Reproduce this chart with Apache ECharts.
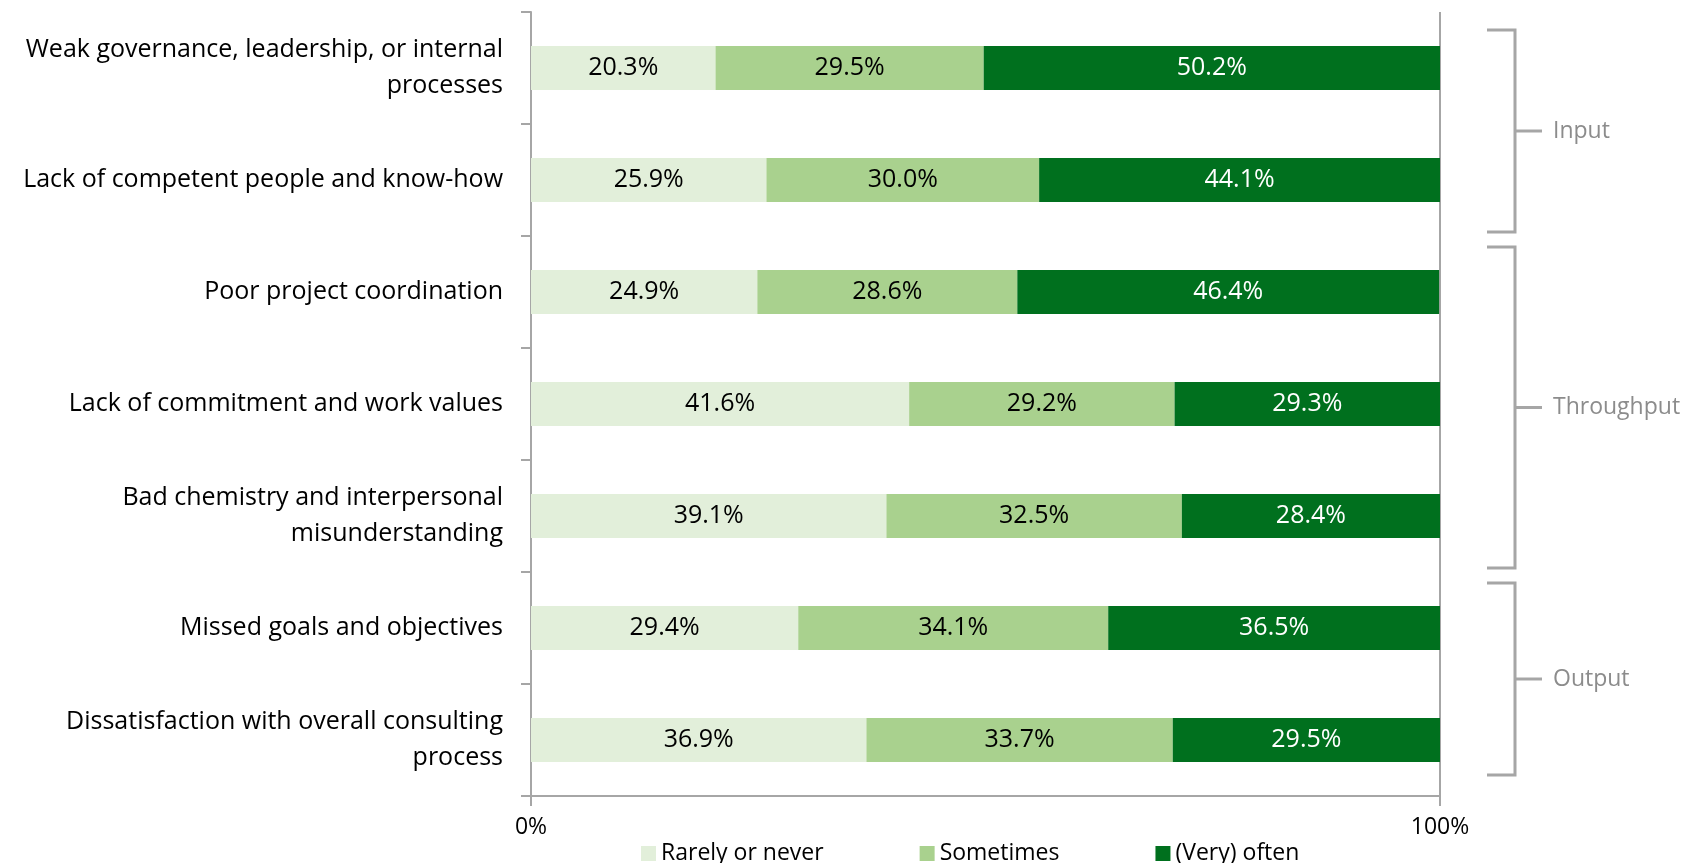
<!DOCTYPE html>
<html>
<head>
  <meta charset="utf-8">
  <title>Problems in consulting projects</title>
  <script src="https://cdn.jsdelivr.net/npm/echarts@6/dist/echarts.min.js"></script>
  <style>
    html, body { margin: 0; padding: 0; background: #fff; }
    #chart { width: 1685px; height: 863px; }
  </style>
</head>
<body>
<div id="chart"></div>
<script>
  // categories, top to bottom
  let categories = [
    'Weak governance, leadership, or internal\nprocesses',
    'Lack of competent people and know-how',
    'Poor project coordination',
    'Lack of commitment and work values',
    'Bad chemistry and interpersonal\nmisunderstanding',
    'Missed goals and objectives',
    'Dissatisfaction with overall consulting\nprocess'
  ];
  let seriesNames = ['Rarely or never', 'Sometimes', '(Very) often'];
  let rarely = [20.3, 25.9, 24.9, 41.6, 39.1, 29.4, 36.9];
  let sometimes = [29.5, 30.0, 28.6, 29.2, 32.5, 34.1, 33.7];
  let often = [50.2, 44.1, 46.4, 29.3, 28.4, 36.5, 29.5];
  let xTicks = [0, 100];
  // groups on the right: name, first and last category index
  let groupNames = ['Input', 'Throughput', 'Output'];
  let groupFrom = [0, 2, 5];
  let groupTo = [1, 4, 6];

  // bracket overhang above first / below last bar centre (px)
  let bracketPad = [[38, 52], [45, 52], [45, 35]];

  let colors = ['#E2EFDA', '#A9D18E', '#00701E'];
  let labelColors = ['#000', '#000', '#fff'];
  let font = "'Open Sans', 'Noto Sans', sans-serif";
  let gray = '#A6A6A6';

  let myChart = echarts.init(document.getElementById('chart'));

  function makeSeries(idx, values) {
    return {
      name: seriesNames[idx],
      type: 'bar',
      stack: 'total',
      barWidth: 44,
      data: values,
      itemStyle: { color: colors[idx] },
      label: {
        show: true,
        position: 'inside',
        color: labelColors[idx],
        fontFamily: font,
        fontSize: 25,
        formatter: function (p) { return p.value.toFixed(1) + '%'; }
      },
      emphasis: { disabled: true }
    };
  }

  let option = {
    animation: false,
    textStyle: { fontFamily: font },
    grid: { left: 531, right: 245, top: 12, bottom: 67, containLabel: false },
    legend: {
      data: seriesNames,
      left: 636,
      top: 837,
      itemWidth: 15,
      itemHeight: 15,
      itemGap: 96,
      itemTextGap: 8,
      icon: 'rect',
      textStyle: { fontFamily: font, fontSize: 23, color: '#000' }
    },
    xAxis: {
      type: 'value',
      min: xTicks[0],
      max: xTicks[1],
      interval: 100,
      axisLine: { show: true, lineStyle: { color: gray, width: 2 } },
      axisTick: { show: true, length: 10, lineStyle: { color: gray, width: 2 } },
      splitLine: { show: true, lineStyle: { color: gray, width: 2 } },
      axisLabel: {
        margin: 20,
        color: '#000',
        fontFamily: font,
        fontSize: 23,
        formatter: function (v) { return v + '%'; }
      }
    },
    yAxis: {
      type: 'category',
      inverse: true,
      data: categories,
      axisLine: { show: true, lineStyle: { color: gray, width: 2 } },
      axisTick: { show: true, length: 10, lineStyle: { color: gray, width: 2 } },
      axisLabel: {
        margin: 28,
        color: '#000',
        fontFamily: font,
        fontSize: 25,
        lineHeight: 36,
        align: 'right'
      }
    },
    series: [
      makeSeries(0, rarely),
      makeSeries(1, sometimes),
      makeSeries(2, often)
    ]
  };
  myChart.setOption(option);

  // brackets grouping the categories on the right side
  let graphics = [];
  let bx = 1515;
  groupNames.forEach(function (name, i) {
    let y1 = myChart.convertToPixel({ yAxisIndex: 0 }, groupFrom[i]) - bracketPad[i][0];
    let y2 = myChart.convertToPixel({ yAxisIndex: 0 }, groupTo[i]) + bracketPad[i][1];
    let ym = (y1 + y2) / 2;
    graphics.push({
      type: 'polyline',
      shape: { points: [[bx - 28, y1], [bx, y1], [bx, y2], [bx - 28, y2]] },
      style: { stroke: gray, lineWidth: 3, fill: null }
    });
    graphics.push({
      type: 'line',
      shape: { x1: bx, y1: ym, x2: bx + 27, y2: ym },
      style: { stroke: gray, lineWidth: 3 }
    });
    graphics.push({
      type: 'text',
      x: bx + 38,
      y: ym,
      style: {
        text: name,
        fill: '#8C8C8C',
        font: '23px ' + font,
        textVerticalAlign: 'middle'
      }
    });
  });
  myChart.setOption({ graphic: graphics });
</script>
</body>
</html>
